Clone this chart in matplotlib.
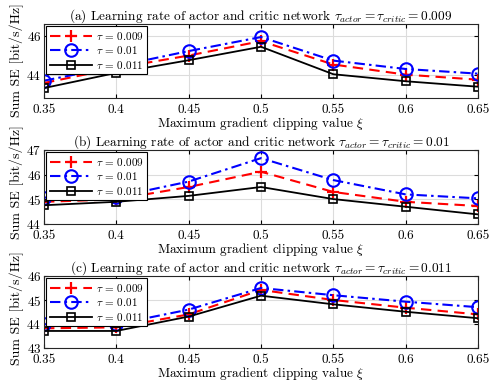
import matplotlib
matplotlib.use("Agg")
import matplotlib.pyplot as plt

plt.rcParams['font.family'] = 'serif'
plt.rcParams['font.serif'] = ['cmr10', 'DejaVu Serif']
plt.rcParams['mathtext.fontset'] = 'cm'
plt.rcParams['axes.formatter.use_mathtext'] = True
plt.rcParams['axes.unicode_minus'] = False

xi = [0.35, 0.4, 0.45, 0.5, 0.55, 0.6, 0.65]
xtick_labels = ['0.35', '0.4', '0.45', '0.5', '0.55', '0.6', '0.65']

titles = [r'(a) Learning rate of actor and critic network $\tau_{actor}=\tau_{critic}=0.009$',
          r'(b) Learning rate of actor and critic network $\tau_{actor}=\tau_{critic}=0.01$',
          r'(c) Learning rate of actor and critic network $\tau_{actor}=\tau_{critic}=0.011$']

# panel a
a_t009 = [43.57, 44.34, 44.98, 45.72, 44.52, 44.00, 43.74]
a_t010 = [43.69, 44.43, 45.21, 45.93, 44.72, 44.29, 44.05]
a_t011 = [43.31, 44.09, 44.74, 45.43, 44.02, 43.66, 43.38]
# panel b
b_t009 = [44.90, 45.00, 45.50, 46.12, 45.30, 44.90, 44.73]
b_t010 = [45.07, 45.10, 45.72, 46.67, 45.78, 45.20, 45.04]
b_t011 = [44.76, 44.90, 45.14, 45.50, 45.01, 44.70, 44.39]
# panel c
c_t009 = [43.82, 43.86, 44.40, 45.42, 45.00, 44.68, 44.40]
c_t010 = [43.99, 43.99, 44.60, 45.50, 45.20, 44.93, 44.70]
c_t011 = [43.71, 43.71, 44.31, 45.18, 44.82, 44.51, 44.24]

series = [(a_t009, a_t010, a_t011), (b_t009, b_t010, b_t011), (c_t009, c_t010, c_t011)]
ylims = [(42.8, 46.6), (44, 47), (43, 46)]
yticks = [[44, 46], [44, 45, 46, 47], [43, 44, 45, 46]]
labels = [r'$\tau$ = 0.009', r'$\tau$ = 0.01', r'$\tau$ = 0.011']

fig = plt.figure(figsize=(4.9, 3.83), dpi=100)
W, H = 490, 383
boxes = [(44, 24, 478, 98), (44, 150, 478, 224), (44, 276, 478, 348)]
ylabel_centers = [60, 182, 308]

for i, (l, t, r, b) in enumerate(boxes):
    ax = fig.add_axes([l / W, 1 - b / H, (r - l) / W, (b - t) / H])
    s009, s010, s011 = series[i]
    ax.plot(xi, s009, color='red', linestyle=(0, (5, 3)), linewidth=1.5,
            marker='+', markersize=8, markeredgewidth=1.6, label=labels[0])
    ax.plot(xi, s010, color='blue', linestyle=(0, (5, 2, 1.2, 2)), linewidth=1.5,
            marker='o', markersize=9, markerfacecolor='none', markeredgewidth=1.5, label=labels[1])
    ax.plot(xi, s011, color='black', linestyle='-', linewidth=1.3,
            marker='s', markersize=6, markerfacecolor='none', markeredgewidth=1.2, label=labels[2])
    ax.set_xlim(0.35, 0.65)
    ax.set_ylim(*ylims[i])
    ax.set_xticks(xi)
    ax.set_xticklabels(xtick_labels)
    ax.set_yticks(yticks[i])
    ax.grid(True, color='#dcdcdc', linewidth=0.8)
    ax.set_axisbelow(True)
    ax.tick_params(labelsize=9.5, direction='in', length=3, top=True, right=True)
    ax.tick_params(axis='x', pad=4)
    ax.tick_params(axis='y', pad=2)
    for sp in ax.spines.values():
        sp.set_linewidth(0.8)
        sp.set_color('#262626')
    ax.set_title(titles[i], fontsize=9.6, pad=3)
    ax.set_xlabel(r'Maximum gradient clipping value $\xi$', fontsize=9.5, labelpad=-0.3)
    leg = ax.legend(loc='upper left', fontsize=8, handlelength=3.8, framealpha=1,
                    fancybox=False, edgecolor='black', borderpad=0.3, labelspacing=0.25,
                    handletextpad=0.4, borderaxespad=0.2)
    leg.get_frame().set_linewidth(0.8)
    fig.text(17 / W, 1 - ylabel_centers[i] / H, 'Sum SE [bit/s/Hz]', rotation=90,
             va='center', ha='center', fontsize=10)

fig.savefig('out.png', dpi=100)
